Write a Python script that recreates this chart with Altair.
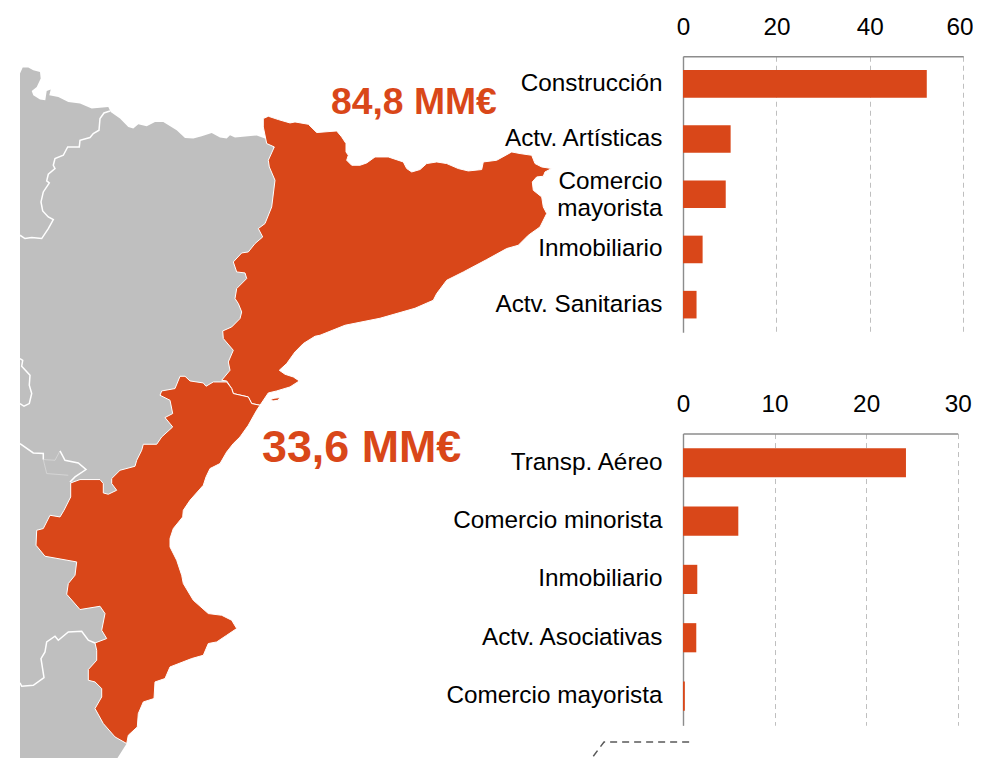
import altair as alt
import pandas as pd

ORANGE = "#D94719"
GREY = "#BFBFBF"
FONT = "Liberation Sans"

top_cats = ["Construcción", "Actv. Artísticas", "Comercio|mayorista", "Inmobiliario", "Actv. Sanitarias"]
top_vals = [52.2, 10.2, 9.15, 4.2, 2.9]
bot_cats = ["Transp. Aéreo", "Comercio minorista", "Inmobiliario", "Actv. Asociativas", "Comercio mayorista"]
bot_vals = [24.35, 6.04, 1.56, 1.45, 0.2]

grey_land = [[20,73.3],[22.7,67.3],[28.3,67.3],[33.3,70],[40,71.7],[40.7,78.3],[36.7,86.7],[31.7,90.7],[33.3,95],[40,99.3],[45.3,100],[46.7,90.7],[50.7,89.3],[49.3,95],[58.3,96.7],[68.3,101.7],[80,103.3],[91.7,108.3],[108.3,106.7],[110.7,111.7],[120,118.3],[128.3,126.7],[133.3,128.3],[138.3,124],[146.7,126],[155,121.7],[163.3,121.7],[176.7,130],[185,137.7],[193.3,138.3],[201.7,136],[211.7,132.7],[220,137.3],[226.7,138.3],[230,135],[235,137.3],[256.7,135.3],[265,138.3],[273.3,146.7],[300,250],[260,350],[240,400],[180,480],[120,600],[120,730],[126.7,743.3],[117.3,758],[20,758],[20,73.3]]

catalonia = [[263.3,118.3],[268.3,116],[278.3,119.3],[290,122.7],[295,121.7],[308.3,124],[316.7,132.3],[336.7,130.7],[341.7,136.7],[346,143.3],[346,151.7],[348.3,155],[346.7,160],[351.7,165],[360,165],[366.7,162.7],[375,156.7],[388.3,156.7],[403.3,161.7],[406.7,168.3],[411.7,171.7],[420,169.3],[426.7,163.3],[436.7,161.7],[446.7,163.3],[458.3,168.3],[468.3,170.7],[481.7,169.3],[483.3,161.7],[496.7,160],[511.7,151.7],[520,153.3],[531.7,155],[535,163.3],[541.7,166.7],[551.7,168.3],[545,171.7],[543.3,176],[536.7,176.7],[532.3,181.7],[533.3,190],[541.7,196.7],[543.3,206.7],[546.7,213.3],[540,226.7],[528.3,235],[518.3,245],[506.7,248.3],[486.7,259.3],[463.3,271.7],[446.7,280],[436.7,293.3],[433.3,300],[415,308],[380,318],[345,325],[320,335],[315,336],[303.3,343.3],[295,351.7],[286.7,363.3],[279.3,370],[285,374],[293.3,376.7],[299.3,380.7],[290,386.7],[276.7,390.7],[268.3,392.7],[260,405],[251.7,403.3],[248.3,396.7],[233.3,393.3],[231.7,388.3],[226.7,380.7],[221.7,380],[230,370],[228.3,361.7],[233.3,350],[223.3,338.3],[222.7,330.7],[231.7,326.7],[240,318.3],[241.7,311.7],[238.3,303.3],[235,298.3],[236.7,288.3],[246.7,278.3],[245,272.7],[236.7,271.7],[233.3,261.7],[241.7,252.7],[248.3,251.7],[255,243.3],[262.7,236.7],[258.3,228.3],[265,223.3],[271.7,206.7],[275,180],[269.3,166.7],[268.3,160],[274.3,146.7],[266.7,143.3],[263.3,126.7],[263.3,118.3]]

delta_island = [[270,399.5],[274,398],[280,397.3],[278,400],[273,400.7],[270,399.5]]

valencia = [[260,405],[256.7,410],[248.3,425],[240,436.7],[233.3,443.3],[226.7,451.7],[220,463.3],[210,468.3],[206,476.7],[203.3,485],[190,500],[183.3,510],[182.7,516.7],[173.3,528.3],[170,538.3],[170,546.7],[176.7,560],[181.7,575],[183.3,583.3],[193.3,600],[208.3,613.3],[221.7,615],[231.7,620],[236.7,628.3],[226.7,635],[216.7,641.7],[208.3,643.3],[203.3,655],[191.7,658.3],[170,666.7],[165,678.3],[155,681.7],[154,698.3],[143.3,701.7],[138.3,713.3],[137.3,726.7],[128.3,735],[126.7,743.3],[115,736.7],[103.3,723.3],[95,708.3],[101.7,696.7],[101.7,688.3],[95,681.7],[88.3,680],[88.3,669.3],[96.7,660],[96.7,650],[95,642.7],[106.7,638.3],[101.7,630],[105,613.3],[100,606],[80,609.3],[66.7,594],[68.3,583.3],[75,575],[76.7,561.7],[45,556],[36,545],[36.7,530],[43.3,528.3],[50,515],[60,516.7],[64,510],[70.7,496.7],[70.7,482.7],[80,479.3],[100,479.3],[103.3,483.3],[103.3,492.7],[108.3,494],[116.7,490],[111.7,483.3],[111.7,478.3],[120,470],[135,466],[136.7,460],[141.7,450],[143.3,444],[156.7,444],[161.7,436.7],[172.7,426.7],[165,417.3],[172.7,413.3],[170,400],[160,395],[161.7,390.7],[175,388.3],[180,376],[185,376],[190,380.7],[203.3,382.7],[206,386],[213.3,381.7],[226.7,381.7],[231.7,388.3],[233.3,393.3],[248.3,396.7],[251.7,403.3],[260,405]]

border_a = [[110,110.7],[104,112.7],[100,118.3],[99,130],[93.3,133.3],[90,137.3],[80,140],[79.3,146.7],[67.7,146.7],[63.3,155],[55,158.3],[53.3,165],[55,168.3],[48.3,174],[46.7,180.7],[49.3,182.7],[43.3,191.7],[41,201.7],[42.7,210.7],[48.3,216.7],[53.3,219.3],[48.3,228.3],[41.7,238.3],[31.7,237.3],[25,238.3],[20,235]]
border_b = [[20,358.3],[22.7,360],[21.7,366],[30,375],[29.3,385],[31.7,393.3],[29.3,403.3],[24,406],[20,403.3]]
border_c = [[20,443.3],[33.3,452.7],[43.3,453.3],[43.3,459.3]]
border_d = [[60,450.7],[65,460],[78.3,462.7],[86,469.3],[75,476.7],[70,481.7]]
border_e = [[20,682.7],[21.7,686],[33.3,685],[44,677.3],[41,658.3],[45,651.7],[46.7,641.7],[55,636],[58.3,640],[68.3,631.7],[81.7,631],[88.3,640],[95,642.7]]
faint_a = [[43.3,459.3],[55,460],[60,450.7]]
faint_b = [[43.3,459.3],[46.7,473.3],[68.3,475]]
dashed = [[593.3,756],[604,741.7],[693.3,741.7]]

OX, OY = 8, 56
PROJ = dict(type="identity", scale=1, translate=[-OX, -OY])


def poly(rings):
    return alt.Data(values=[{"type": "Feature", "properties": {}, "geometry": {"type": "Polygon", "coordinates": [r]}} for r in rings])


def lines(paths):
    return alt.Data(values=[{"type": "Feature", "properties": {}, "geometry": {"type": "LineString", "coordinates": p}} for p in paths])


base_grey = alt.Chart(poly([grey_land])).mark_geoshape(fill=GREY, stroke=GREY, strokeWidth=0, clip=False).project(**PROJ)
wh = alt.Chart(lines([border_a, border_b, border_c, border_d, border_e])).mark_geoshape(filled=False, stroke="white", strokeWidth=1.5, clip=False).project(**PROJ)
wh2 = alt.Chart(lines([faint_a, faint_b])).mark_geoshape(filled=False, stroke="#DDDDDD", strokeWidth=0.7, clip=False).project(**PROJ)
regions = alt.Chart(poly([catalonia, valencia, delta_island])).mark_geoshape(fill=ORANGE, stroke="white", strokeWidth=1, clip=False).project(**PROJ)
dash = alt.Chart(lines([dashed])).mark_geoshape(filled=False, stroke="#595959", strokeWidth=1.5, strokeDash=[7, 5], clip=False).project(**PROJ)
t1 = alt.Chart(pd.DataFrame({"t": ["84,8 MM€"]})).mark_text(font=FONT, fontWeight="bold", fontSize=37.3, color=ORANGE, align="left", baseline="middle").encode(
    text="t:N", x=alt.value(331 - OX), y=alt.value(103 - OY))
t2 = alt.Chart(pd.DataFrame({"t": ["33,6 MM€"]})).mark_text(font=FONT, fontWeight="bold", fontSize=44.8, color=ORANGE, align="left", baseline="middle").encode(
    text="t:N", x=alt.value(262 - OX), y=alt.value(448.5 - OY))
map_panel = alt.layer(base_grey, wh2, wh, regions, dash, t1, t2).properties(width=674.5, height=702)


def bars(cats, vals, dmax, ticks, w, h):
    df = pd.DataFrame({"cat": cats, "val": vals})
    return alt.Chart(df).mark_bar(color=ORANGE).encode(
        x=alt.X("val:Q", scale=alt.Scale(domain=[0, dmax], nice=False), title=None,
                axis=alt.Axis(orient="top", values=ticks, grid=True, gridDash=[5, 4], gridColor="#BFBFBF", gridWidth=1,
                              ticks=False, domainColor="#8C8C8C", domainWidth=1.4, labelFont=FONT, labelFontSize=24.3,
                              labelColor="#000000", labelPadding=17, labelFlush=False, labelAngle=0,
                              labelOffset=alt.condition("datum.value == 60", alt.value(-3.8), alt.value(0)))),
        y=alt.Y("cat:N", sort=cats, title=None, scale=alt.Scale(paddingInner=0.5, paddingOuter=0.25),
                axis=alt.Axis(orient="left", ticks=False, domainColor="#8C8C8C", domainWidth=1.4, labelFont=FONT, labelFontSize=24.3,
                              labelColor="#000000", labelPadding=21, labelLimit=300, labelLineHeight=27,
                              labelOffset=alt.condition("indexof(datum.value, '|') >= 0", alt.value(-12), alt.value(0)),
                              labelExpr="split(datum.label, '|')")),
    ).properties(width=w, height=h)


top_chart = bars(top_cats, top_vals, 60, [0, 20, 40, 60], 280.2, 276)
bot_chart = bars(bot_cats, bot_vals, 30, [0, 10, 20, 30], 274.7, 291.7)
right = alt.vconcat(top_chart, bot_chart, spacing=101.3, bounds="flush")
chart = alt.hconcat(map_panel, right, spacing=0, bounds="flush").properties(padding={"top": 7.25, "left": 0, "right": 0, "bottom": 0}).configure_view(stroke=None)
chart.save("out.html", embed_options={"renderer": "svg", "actions": False})
